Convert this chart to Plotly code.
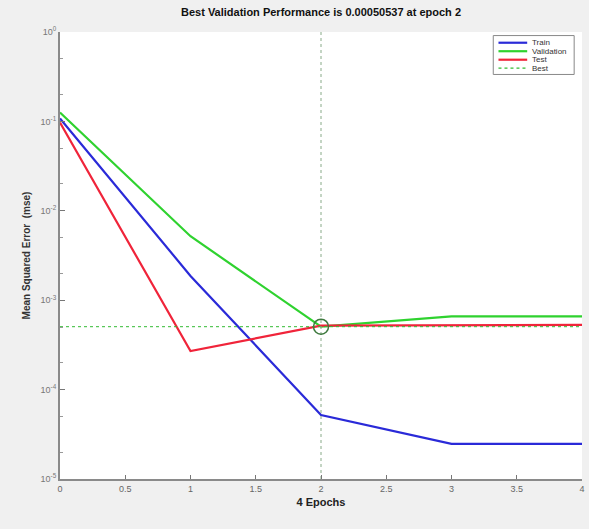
import plotly.graph_objects as go

epochs = [0, 1, 2, 3, 4]
train = [0.108, 0.00187, 5.2e-05, 2.47e-05, 2.47e-05]
validation = [0.126, 0.0052, 0.00050537, 0.00066, 0.00066]
test = [0.097, 0.00027, 0.00052, 0.00053, 0.00053]
best_epoch = 2
best_value = 0.00050537

y_tickvals = [1e-5, 1e-4, 1e-3, 1e-2, 1e-1, 1e0]
y_ticktext = ["10<sup>-5</sup>", "10<sup>-4</sup>", "10<sup>-3</sup>",
              "10<sup>-2</sup>", "10<sup>-1</sup>", "10<sup>0</sup>"]
x_tickvals = [0, 0.5, 1, 1.5, 2, 2.5, 3, 3.5, 4]
x_ticktext = ["0", "0.5", "1", "1.5", "2", "2.5", "3", "3.5", "4"]

C_TRAIN = "#2a2ad8"
C_VAL = "#2fd22f"
C_TEST = "#f0243a"
C_BEST = "#33bb33"

fig = go.Figure()
fig.add_trace(go.Scatter(x=epochs, y=train, mode="lines", name="Train",
                         line=dict(color=C_TRAIN, width=2.2)))
fig.add_trace(go.Scatter(x=epochs, y=validation, mode="lines", name="Validation",
                         line=dict(color=C_VAL, width=2.2)))
fig.add_trace(go.Scatter(x=epochs, y=test, mode="lines", name="Test",
                         line=dict(color=C_TEST, width=2.2)))
# Best: dotted crosshair + circle
fig.add_trace(go.Scatter(x=[0, 4], y=[best_value, best_value], mode="lines", name="Best",
                         line=dict(color=C_BEST, width=1, dash="dot")))
fig.add_trace(go.Scatter(x=[best_epoch, best_epoch], y=[1e-5, 1], mode="lines",
                         showlegend=False, line=dict(color="#88aa88", width=1, dash="dot")))
fig.add_trace(go.Scatter(x=[best_epoch], y=[best_value], mode="markers", showlegend=False,
                         marker=dict(symbol="circle-open", size=15, color="#3f7a3f",
                                     line=dict(color="#3f7a3f", width=1.5))))

# manual compact legend (MATLAB-style)
lx0, lx1, ly0, ly1 = 0.83, 0.985, 0.992, 0.905
fig.add_shape(type="rect", xref="paper", yref="paper", x0=lx0, x1=lx1, y0=ly1, y1=ly0,
              line=dict(color="#888888", width=1), fillcolor="white", layer="above")
names = ["Train", "Validation", "Test", "Best"]
colors = [C_TRAIN, C_VAL, C_TEST, C_BEST]
dashes = ["solid", "solid", "solid", "dot"]
widths = [2.2, 2.2, 2.2, 1.2]
for i, (n, c, d, w) in enumerate(zip(names, colors, dashes, widths)):
    yy = ly0 - 0.016 - i * 0.019
    fig.add_shape(type="line", xref="paper", yref="paper", x0=lx0 + 0.01, x1=lx0 + 0.065,
                  y0=yy, y1=yy, line=dict(color=c, width=w, dash=d), layer="above")
    fig.add_annotation(xref="paper", yref="paper", x=lx0 + 0.07, y=yy, text=n,
                       showarrow=False, xanchor="left", yanchor="middle",
                       font=dict(size=8, color="#333333", family="Liberation Sans, Arial"))

fig.update_layout(
    width=589, height=529,
    paper_bgcolor="#f0f0f0", plot_bgcolor="white",
    margin=dict(l=60, r=4, t=32, b=50),
    showlegend=False,
    title=dict(text="<b>Best Validation Performance is 0.00050537 at epoch 2</b>",
               x=0.5, xref="paper", y=0.977, yanchor="middle",
               font=dict(size=11, color="#111111", family="Liberation Sans, Arial")),
    font=dict(family="Liberation Sans, Arial", color="#555555"),
)
fig.update_xaxes(range=[0, 4], tickvals=x_tickvals, ticktext=x_ticktext,
                 ticks="inside", ticklen=4, tickcolor="#777777",
                 showline=True, linecolor="#8a8a8a", linewidth=2,
                 showgrid=False, zeroline=False,
                 tickfont=dict(size=9, color="#666666"),
                 title=dict(text="<b>4 Epochs</b>", standoff=6,
                            font=dict(size=11, color="#222222")))
fig.update_yaxes(type="log", range=[-5, 0], tickvals=y_tickvals, ticktext=y_ticktext,
                 ticks="inside", ticklen=5, tickcolor="#777777",
                 minor=dict(ticks="inside", ticklen=3, tickcolor="#999999", showgrid=False),
                 showline=True, linecolor="#8a8a8a", linewidth=2,
                 showgrid=False, zeroline=False,
                 tickfont=dict(size=9, color="#777777"),
                 title=dict(text="<b>Mean Squared Error  (mse)</b>", standoff=8,
                            font=dict(size=10, color="#333333")))

fig.write_html("out.html", config={"displayModeBar": False},
               post_script="document.body.style.margin='0';document.body.style.background='#f0f0f0';")
